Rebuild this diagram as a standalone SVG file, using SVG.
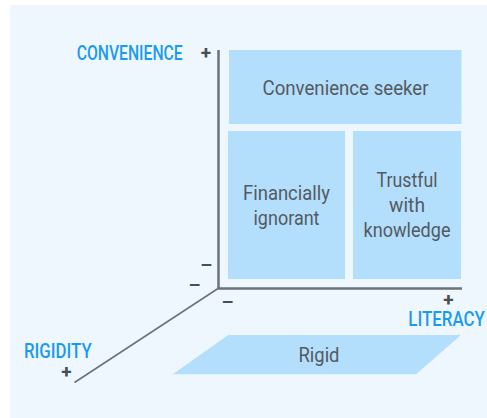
<svg xmlns="http://www.w3.org/2000/svg" width="487" height="418" viewBox="0 0 487 418">
  <style>
    .box { fill: #B3DFFD; }
    .lbl { font-family: Roboto, "Liberation Sans", sans-serif; font-size: 21px; fill: #545a61; text-anchor: middle; }
    .axis-name { font-family: Roboto, "Liberation Sans", sans-serif; font-size: 20px; font-weight: 500; fill: #1A9BF0; }
    .sign { font-family: Roboto, "Liberation Sans", sans-serif; font-size: 19px; font-weight: bold; fill: #4a4d52; text-anchor: middle; }
    .axis { stroke: #6e7277; fill: none; }
  </style>

  <!-- backdrop -->
  <rect x="10" y="5" width="477" height="413" fill="#EEF7FE"/>

  <!-- axes -->
  <g id="connectors">
    <line class="axis" x1="218.5" y1="50" x2="218.5" y2="289" stroke-width="2.5"/>
    <line class="axis" x1="217.5" y1="288.5" x2="462" y2="288.5" stroke-width="2.5"/>
    <line class="axis" x1="218" y1="288.5" x2="74.5" y2="382.5" stroke-width="1.6"/>
  </g>

  <g id="convenience-seeker">
    <rect class="box" x="229" y="50" width="232.5" height="74"/>
    <text class="lbl" x="345.5" y="95" textLength="166" lengthAdjust="spacingAndGlyphs">Convenience seeker</text>
  </g>

  <g id="financially-ignorant">
    <rect class="box" x="228" y="131" width="117" height="148"/>
    <text class="lbl" x="286.5" y="200" textLength="87" lengthAdjust="spacingAndGlyphs">Financially</text>
    <text class="lbl" x="286.5" y="225" textLength="66" lengthAdjust="spacingAndGlyphs">ignorant</text>
  </g>

  <g id="trustful-with-knowledge">
    <rect class="box" x="353" y="131" width="108" height="148"/>
    <text class="lbl" x="407" y="186.7" textLength="61" lengthAdjust="spacingAndGlyphs">Trustful</text>
    <text class="lbl" x="407" y="211.7" textLength="36" lengthAdjust="spacingAndGlyphs">with</text>
    <text class="lbl" x="407" y="236.7" textLength="87" lengthAdjust="spacingAndGlyphs">knowledge</text>
  </g>

  <g id="rigid">
    <polygon class="box" points="172.7,374.3 228.3,335 461,335 416,374.3"/>
    <text class="lbl" x="319" y="361.5" textLength="41" lengthAdjust="spacingAndGlyphs">Rigid</text>
  </g>

  <!-- axis names, set in a condensed cut by scaling horizontally -->
  <g id="axis-labels">
    <text class="axis-name" transform="scale(0.8,1)" x="95.9" y="60" textLength="132.5" lengthAdjust="spacingAndGlyphs">CONVENIENCE</text>
    <text class="axis-name" transform="scale(0.8,1)" x="510.4" y="325.7" textLength="95.6" lengthAdjust="spacingAndGlyphs">LITERACY</text>
    <text class="axis-name" transform="scale(0.8,1)" x="30" y="357.7" textLength="84.6" lengthAdjust="spacingAndGlyphs">RIGIDITY</text>
  </g>

  <!-- scale signs -->
  <g id="signs">
    <text class="sign" x="206" y="58.5">+</text>
    <text class="sign" x="448.5" y="306">+</text>
    <text class="sign" x="66.5" y="377.5">+</text>
    <text class="sign" x="206.2" y="270.5">–</text>
    <text class="sign" x="194.5" y="291">–</text>
    <text class="sign" x="227.5" y="307.5">–</text>
  </g>
</svg>
